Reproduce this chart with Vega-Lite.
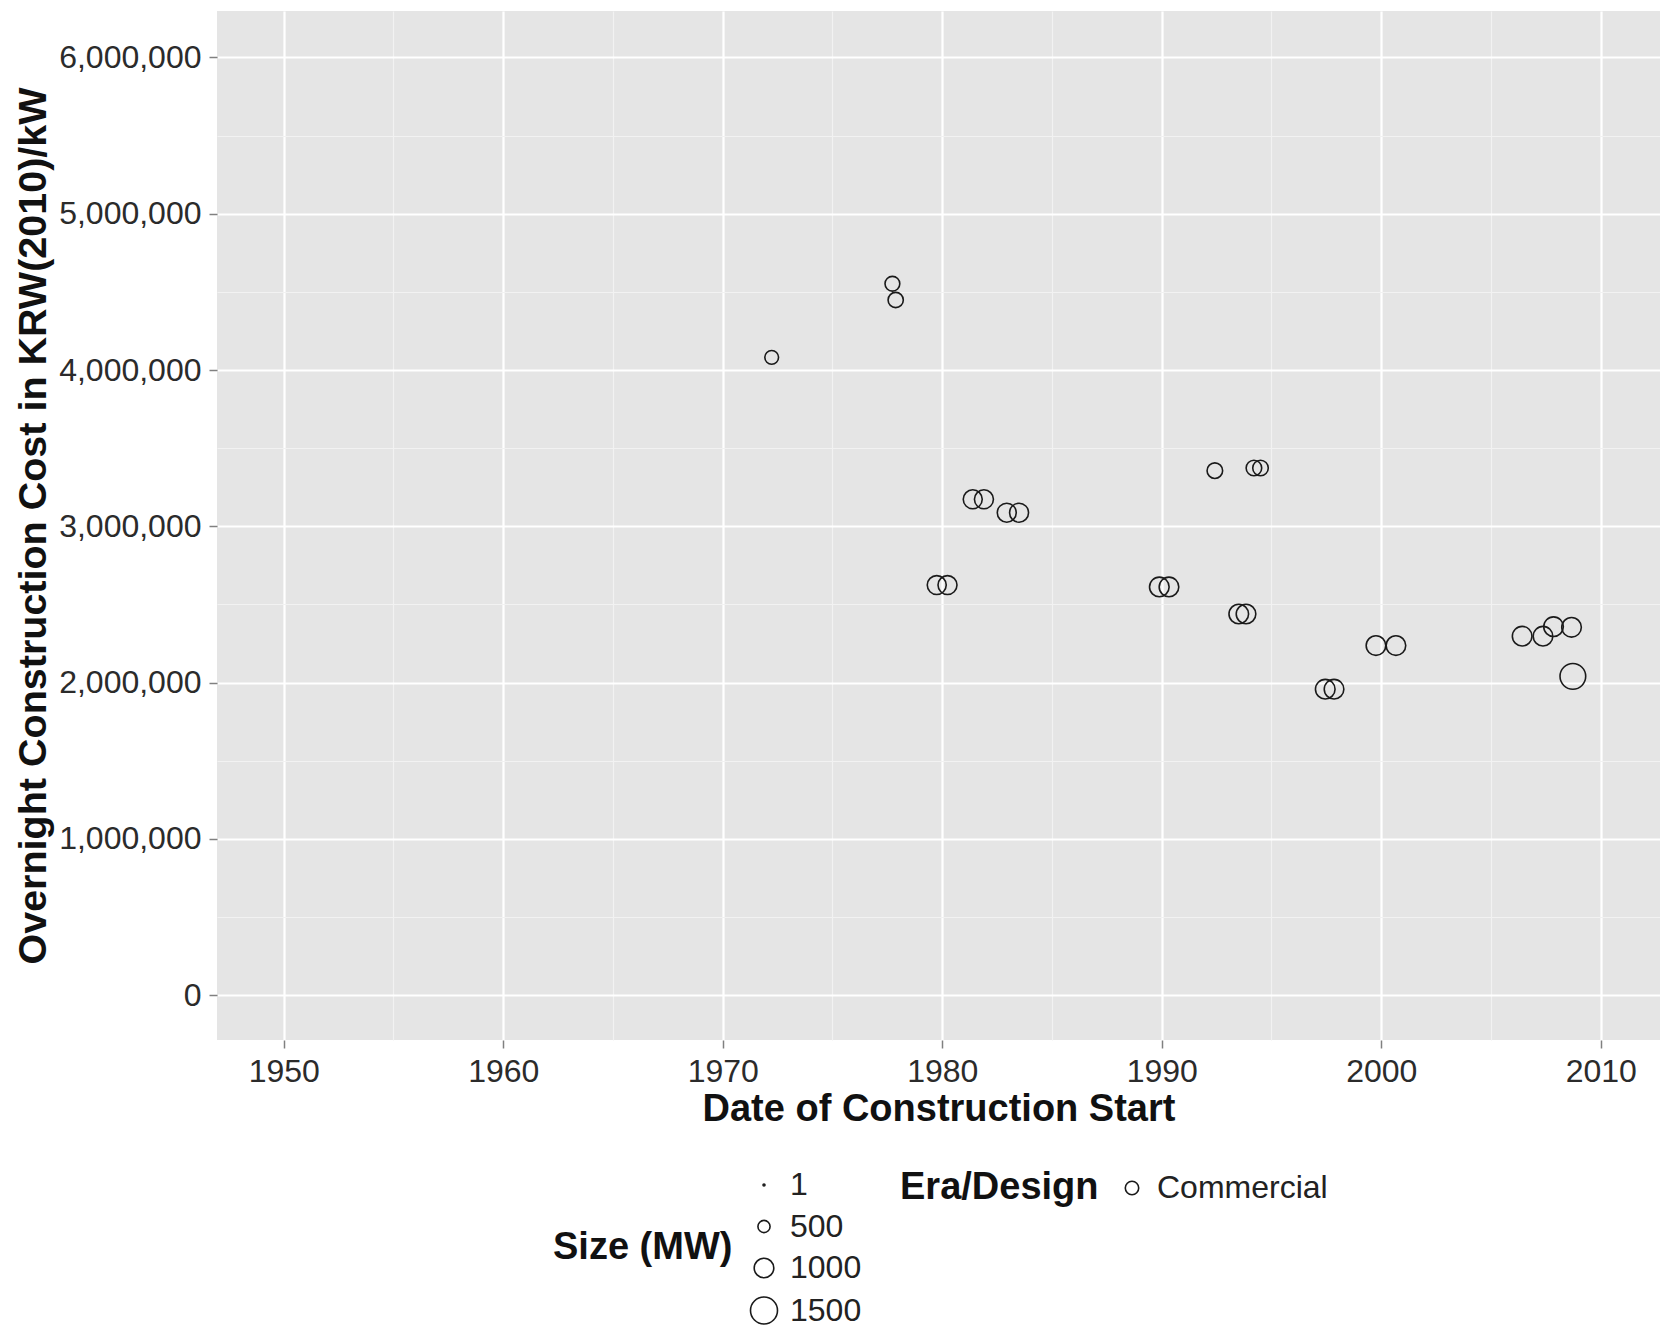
{
  "$schema": "https://vega.github.io/schema/vega-lite/v6.json",
  "width": 1443,
  "height": 1029,
  "autosize": {"type": "none"},
  "padding": {"left": 217, "top": 11, "right": 0, "bottom": 290},
  "background": "white",
  "data": {
    "values": [
      {"year": 1972.23, "cost": 4081000, "mw": 587, "era": "Commercial"},
      {"year": 1977.73, "cost": 4552000, "mw": 650, "era": "Commercial"},
      {"year": 1977.88, "cost": 4448000, "mw": 679, "era": "Commercial"},
      {"year": 1979.75, "cost": 2624000, "mw": 950, "era": "Commercial"},
      {"year": 1980.24, "cost": 2624000, "mw": 950, "era": "Commercial"},
      {"year": 1981.39, "cost": 3173000, "mw": 950, "era": "Commercial"},
      {"year": 1981.9, "cost": 3173000, "mw": 950, "era": "Commercial"},
      {"year": 1982.94, "cost": 3087000, "mw": 950, "era": "Commercial"},
      {"year": 1983.5, "cost": 3087000, "mw": 950, "era": "Commercial"},
      {"year": 1989.89, "cost": 2612000, "mw": 1000, "era": "Commercial"},
      {"year": 1990.33, "cost": 2612000, "mw": 1000, "era": "Commercial"},
      {"year": 1992.42, "cost": 3356000, "mw": 700, "era": "Commercial"},
      {"year": 1994.2, "cost": 3373000, "mw": 700, "era": "Commercial"},
      {"year": 1994.5, "cost": 3373000, "mw": 700, "era": "Commercial"},
      {"year": 1993.51, "cost": 2439000, "mw": 1000, "era": "Commercial"},
      {"year": 1993.84, "cost": 2439000, "mw": 1000, "era": "Commercial"},
      {"year": 1997.45, "cost": 1958000, "mw": 1000, "era": "Commercial"},
      {"year": 1997.85, "cost": 1958000, "mw": 1000, "era": "Commercial"},
      {"year": 1999.76, "cost": 2237000, "mw": 1000, "era": "Commercial"},
      {"year": 2000.67, "cost": 2237000, "mw": 1000, "era": "Commercial"},
      {"year": 2006.42, "cost": 2297000, "mw": 1000, "era": "Commercial"},
      {"year": 2007.37, "cost": 2297000, "mw": 1000, "era": "Commercial"},
      {"year": 2007.85, "cost": 2358000, "mw": 1000, "era": "Commercial"},
      {"year": 2008.67, "cost": 2354000, "mw": 1000, "era": "Commercial"},
      {"year": 2008.73, "cost": 2040000, "mw": 1400, "era": "Commercial"}
    ]
  },
  "layer": [
    {
      "mark": {"type": "point", "opacity": 0},
      "encoding": {
        "x": {
          "field": "year", "type": "quantitative",
          "scale": {"domain": [1946.96, 2012.7], "nice": false, "zero": false},
          "axis": {"orient": "top", "values": [1955, 1965, 1975, 1985, 1995, 2005], "labels": false, "ticks": false, "domain": false, "title": null, "grid": true, "gridColor": "#F2F2F2", "gridWidth": 1.2}
        },
        "y": {
          "field": "cost", "type": "quantitative",
          "scale": {"domain": [-286600, 6297000], "nice": false, "zero": false},
          "axis": {"orient": "right", "values": [500000, 1500000, 2500000, 3500000, 4500000, 5500000], "labels": false, "ticks": false, "domain": false, "title": null, "grid": true, "gridColor": "#F2F2F2", "gridWidth": 1.2}
        }
      }
    },
    {
      "mark": {"type": "point", "filled": false, "stroke": "#1a1a1a", "strokeWidth": 1.6, "opacity": 1},
      "encoding": {
        "x": {
          "field": "year", "type": "quantitative",
          "scale": {"domain": [1946.96, 2012.7], "nice": false, "zero": false},
          "axis": {"orient": "bottom", "values": [1950, 1960, 1970, 1980, 1990, 2000, 2010], "format": "d", "title": "Date of Construction Start", "grid": true, "gridColor": "#FFFFFF", "gridWidth": 2.2, "domain": false, "tickColor": "#808080", "tickSize": 8, "tickWidth": 1.5, "labelFontSize": 32, "labelPadding": 8, "labelColor": "#2b2b2b", "titleFontSize": 38, "titleFontWeight": "bold", "titleColor": "#111111", "titlePadding": 3, "labelFlush": false}
        },
        "y": {
          "field": "cost", "type": "quantitative",
          "scale": {"domain": [-286600, 6297000], "nice": false, "zero": false},
          "axis": {"orient": "left", "values": [0, 1000000, 2000000, 3000000, 4000000, 5000000, 6000000], "format": ",d", "title": "Overnight Construction Cost in KRW(2010)/kW", "grid": true, "gridColor": "#FFFFFF", "gridWidth": 2.2, "domain": false, "tickColor": "#808080", "tickSize": 8, "tickWidth": 1.5, "labelFontSize": 32, "labelPadding": 8, "labelColor": "#2b2b2b", "titleFontSize": 39.5, "titleFontWeight": "bold", "titleColor": "#111111", "titleX": -172, "titleBaseline": "alphabetic", "labelFlush": false}
        },
        "size": {
          "field": "mw", "type": "quantitative",
          "scale": {"domain": [1, 500, 1000, 1500], "range": [4, 148, 384, 729]},
          "legend": {"title": "Size (MW)", "values": [1, 500, 1000, 1500], "format": "d", "orient": "none", "legendX": 336, "legendY": 1158, "direction": "vertical", "titleOrient": "left", "titleAnchor": "middle", "titlePadding": 15, "rowPadding": 9.5, "labelOffset": 10, "labelLimit": 400, "titleLimit": 400, "symbolStrokeColor": "#1a1a1a", "symbolStrokeWidth": 1.6}
        },
        "shape": {
          "field": "era", "type": "nominal",
          "scale": {"range": ["circle"]},
          "legend": {"title": "Era/Design", "orient": "none", "legendX": 683, "legendY": 1161, "titleOrient": "left", "titleAnchor": "middle", "titlePadding": 17, "labelOffset": 9, "labelLimit": 400, "titleLimit": 400, "symbolSize": 180, "symbolStrokeColor": "#1a1a1a", "symbolStrokeWidth": 1.6}
        }
      }
    }
  ],
  "resolve": {"axis": {"x": "independent", "y": "independent"}},
  "config": {
    "font": "Liberation Sans",
    "view": {"fill": "#E5E5E5", "stroke": null},
    "legend": {"labelFontSize": 32, "titleFontSize": 38, "titleFontWeight": "bold", "labelColor": "#222222", "titleColor": "#111111", "labelFont": "Liberation Sans", "titleFont": "Liberation Sans"}
  }
}
